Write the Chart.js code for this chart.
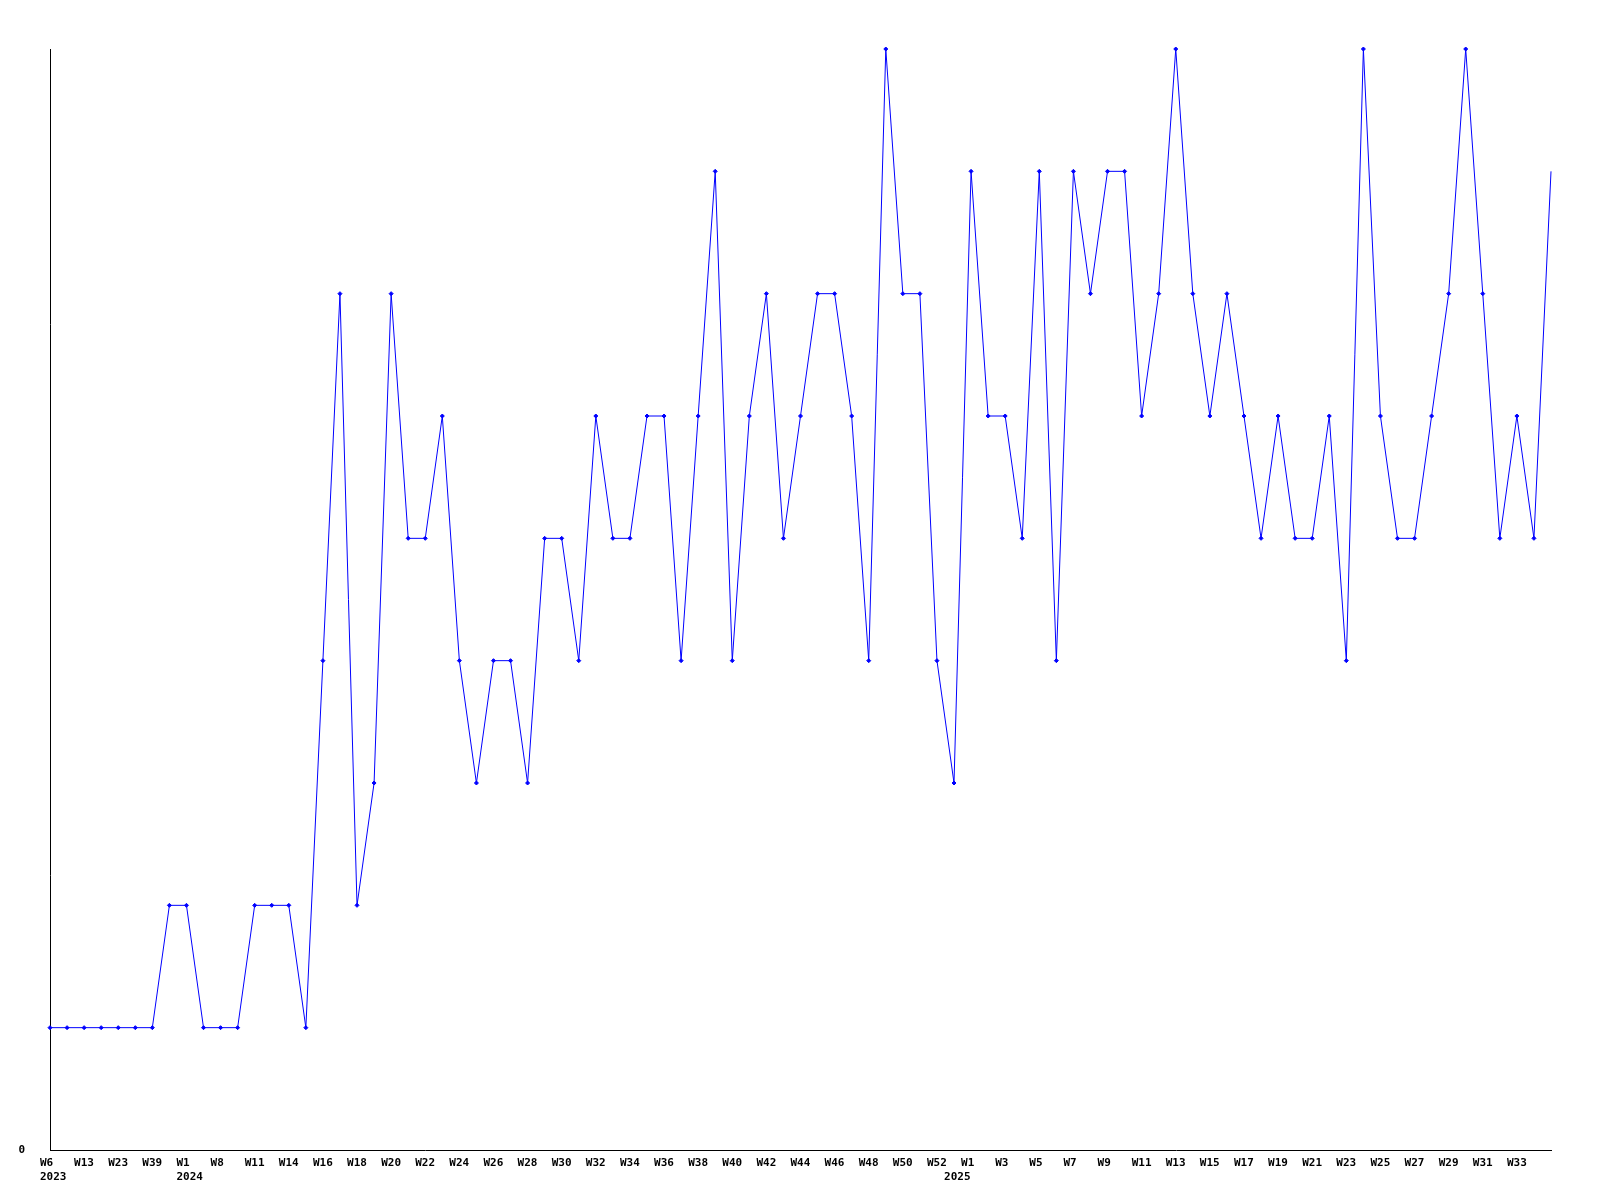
<!DOCTYPE html>
<html>
<head>
<meta charset="utf-8">
<script src="https://cdn.jsdelivr.net/npm/chart.js@4"></script>
<style>
  body { margin: 0; background: #fff; }
  #wrap { width: 1600px; height: 1200px; }
</style>
</head>
<body>
<div id="wrap"><canvas id="line-chart" width="1600" height="1200"></canvas></div>
<script>
// week labels (odd ones are hidden on the axis)
let weeks = ['W6', 'W9', 'W13', 'W17', 'W23', 'W31', 'W39', 'W47',
  'W1', 'W4', 'W8', 'W10', 'W11', 'W12',
  'W14', 'W15', 'W16', 'W17', 'W18', 'W19', 'W20', 'W21', 'W22', 'W23', 'W24', 'W25',
  'W26', 'W27', 'W28', 'W29', 'W30', 'W31', 'W32', 'W33', 'W34', 'W35', 'W36', 'W37',
  'W38', 'W39', 'W40', 'W41', 'W42', 'W43', 'W44', 'W45', 'W46', 'W47', 'W48', 'W49',
  'W50', 'W51', 'W52', 'W0',
  'W1', 'W2', 'W3', 'W4', 'W5', 'W6', 'W7', 'W8', 'W9', 'W10', 'W11', 'W12', 'W13',
  'W14', 'W15', 'W16', 'W17', 'W18', 'W19', 'W20', 'W21', 'W22', 'W23', 'W24', 'W25',
  'W26', 'W27', 'W28', 'W29', 'W30', 'W31', 'W32', 'W33', 'W34', 'W35'];

// second line: year where a new year starts
let yearMarks = [[0, '2023'], [8, '2024'], [53, '2025']];

let counts = [1, 1, 1, 1, 1, 1, 1, 2, 2, 1, 1, 1, 2, 2, 2, 1, 4, 7, 2, 3,
  7, 5, 5, 6, 4, 3, 4, 4, 3, 5, 5, 4, 6, 5, 5, 6, 6, 4, 6, 8,
  4, 6, 7, 5, 6, 7, 7, 6, 4, 9, 7, 7, 4, 3, 8, 6, 6, 5, 8, 4,
  8, 7, 8, 8, 6, 7, 9, 7, 6, 7, 6, 5, 6, 5, 5, 6, 4, 9, 6, 5,
  5, 6, 7, 9, 7, 5, 6, 5, 8];

let yTicks = [0];

const tickFont = 'bold 11px "DejaVu Sans Mono", monospace';

// x labels drawn by hand: left aligned a bit before the point
const weekLabels = {
  id: 'weekLabels',
  afterDraw(chart) {
    const ctx = chart.ctx;
    const xs = chart.scales.x;
    const base = chart.chartArea.bottom;
    ctx.save();
    ctx.font = tickFont;
    ctx.fillStyle = '#000';
    ctx.textAlign = 'left';
    ctx.textBaseline = 'top';
    // last one does not fit, skip it
    for (let i = 0; i < weeks.length - 1; i++) {
      if (i % 2 == 0) {
        ctx.fillText(weeks[i], xs.getPixelForValue(i) - 10, base + 8);
      }
    }
    yearMarks.forEach(function(m) {
      ctx.fillText(m[1], xs.getPixelForValue(m[0]) - 10, base + 22);
    });
    ctx.restore();
  }
};

let myChart = new Chart(document.getElementById('line-chart').getContext('2d'), {
  type: 'line',
  data: {
    labels: weeks,
    datasets: [{
      data: counts,
      borderColor: '#0000FF',
      borderWidth: 1,
      backgroundColor: '#0000FF',
      pointStyle: 'rectRot',
      pointRadius: function(c) { return c.dataIndex == counts.length - 1 ? 0 : 2; },
      pointBorderWidth: 1,
      tension: 0,
      fill: false,
      clip: false
    }]
  },
  options: {
    responsive: false,
    animation: false,
    layout: { padding: { top: 49, right: 49, left: 0, bottom: 0 } },
    plugins: {
      legend: { display: false },
      tooltip: { enabled: false }
    },
    scales: {
      x: {
        grid: { display: false, drawTicks: false },
        border: { display: true, color: '#000', width: 1 },
        ticks: { display: false, autoSkip: false },
        afterFit: function(scale) { scale.height = 50; }
      },
      y: {
        min: 0,
        max: 9,
        grid: { display: false, drawTicks: false },
        border: { display: true, color: '#000', width: 1 },
        ticks: {
          stepSize: 1,
          padding: 25,
          color: '#000',
          font: { family: '"DejaVu Sans Mono", monospace', size: 11, weight: 'bold' },
          callback: function(v) { return yTicks.includes(v) ? String(v) : ''; }
        },
        afterFit: function(scale) { scale.width = 50; }
      }
    }
  },
  plugins: [weekLabels]
});
</script>
</body>
</html>
